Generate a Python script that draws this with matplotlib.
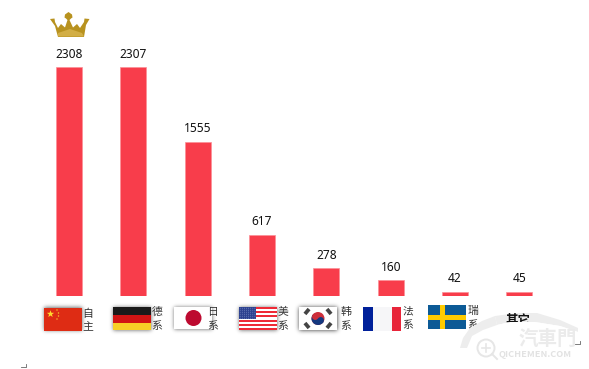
import matplotlib
matplotlib.use('Agg')
import matplotlib.pyplot as plt
from matplotlib.patches import Rectangle, Circle, Polygon, Wedge
import numpy as np
from math import erf

plt.rcParams['font.family'] = ['Noto Sans CJK SC', 'DejaVu Sans']

categories = ['自主', '德系', '日系', '美系', '韩系', '法系', '瑞系', '其它']
values = [2308, 2307, 1555, 617, 278, 160, 42, 45]
BAR = '#f83d4b'
W, H = 589, 369

fig = plt.figure(figsize=(W/100, H/100), dpi=100, facecolor='white')
x0, x1 = 37.0, 551.5
ax = fig.add_axes([x0/W, (H-296)/H, (x1-x0)/W, (296-67)/H])
ax.bar(range(len(values)), values, width=0.405, color=BAR, edgecolor='#fb8f97', linewidth=0.5, zorder=2)
ax.set_xlim(-0.5, 7.5)
ax.set_ylim(0, 2308)
ax.axis('off')
for i, v in enumerate(values):
    ax.annotate(str(v), (i, v), xytext=(0, 6.5), textcoords='offset pixels', ha='center', va='bottom',
                fontsize=8.6, family='Noto Sans', color='#111111', annotation_clip=False)

ov = fig.add_axes([0, 0, 1, 1], facecolor='none')
ov.axis('off')

verf = np.vectorize(erf)
def shadow(x, y, w, h, sigma=2.0, peak=0.6):
    pad = 8
    xs = np.arange(x-pad, x+w+pad, 0.5)
    ys = np.arange(y-pad, y+h+pad, 0.5)
    s = sigma*np.sqrt(2)
    fx = 0.5*(verf((xs-x)/s)-verf((xs-x-w)/s))
    fy = 0.5*(verf((ys-y)/s)-verf((ys-y-h)/s))
    a = np.outer(fy, fx)*peak
    img = np.zeros(a.shape+(4,))
    img[..., 3] = a
    ov.imshow(img, extent=(xs[0], xs[-1], ys[-1], ys[0]), aspect='auto', zorder=3, interpolation='bilinear')

def rect(x, y, w, h, c, z=4):
    ov.add_patch(Rectangle((x, y), w, h, fc=c, ec='none', zorder=z))

# China
shadow(44, 308, 38, 23)
rect(44, 307.5, 38, 23, '#de2c14')
sx, sy = 50.5, 314
ang = np.linspace(-np.pi/2, 2*np.pi-np.pi/2, 11)[:-1]
rad = np.where(np.arange(10) % 2 == 0, 3.8, 1.5)
ov.add_patch(Polygon(np.c_[sx+rad*np.cos(ang), sy+rad*np.sin(ang)], fc='#ffd92e', ec='none', zorder=5))
for dx, dy in [(57, 310), (58.5, 313), (58.5, 316), (57, 319)]:
    ov.add_patch(Circle((dx, dy), 0.7, fc='#f5c92a', ec='none', zorder=5))
# Germany
shadow(113, 307.5, 38, 23)
rect(113, 307, 38, 8, '#1a1a1a'); rect(113, 315, 38, 7.5, '#d11414'); rect(113, 322.5, 38, 7.5, '#f7cf26')
# Japan
shadow(174, 307.5, 38, 22)
rect(174, 307, 38, 22, 'white')
ov.add_patch(Circle((193.5, 318), 8, fc='#bd0a30', ec='none', zorder=5))
# USA
shadow(239, 307.5, 38, 23)
for s in range(11):
    rect(239, 307+s*23/11, 38, 23/11, '#ee2a36' if s % 2 == 0 else 'white')
rect(239, 307, 17, 12.4, '#2c418f', 5)
for r in range(6):
    for c in range(8):
        ov.add_patch(Circle((240.2+c*2.1, 308.2+r*2), 0.4, fc='#98a6d8', ec='none', zorder=6))
# Korea
shadow(299, 307.5, 38, 23, sigma=2.2, peak=0.8)
rect(299, 307, 38, 23, 'white')
cx, cy, R = 318, 318.5, 6.5
tilt = 33.7
ov.add_patch(Circle((cx, cy), R, fc='#cd2e3a', ec='none', zorder=5))
ov.add_patch(Wedge((cx, cy), R, tilt, tilt+180, fc='#14387f', ec='none', zorder=5))
dx, dy = R/2*np.cos(np.radians(tilt)), R/2*np.sin(np.radians(tilt))
ov.add_patch(Circle((cx-dx, cy-dy), R/2, fc='#cd2e3a', ec='none', zorder=6))
ov.add_patch(Circle((cx+dx, cy+dy), R/2, fc='#14387f', ec='none', zorder=6))
for tx, ty, a in [(307, 311.5, -50), (329, 311.5, 50), (307, 325.5, 50), (329, 325.5, -50)]:
    ov.add_patch(Rectangle((tx-3.2, ty-1.9), 6.4, 3.8, angle=a, rotation_point='center', fc='#444444', ec='none', zorder=5))
# France
rect(363, 307, 10, 24, '#00209a'); rect(373, 307, 19, 24, '#f6f6f8'); rect(391.5, 307, 9, 24, '#e8253a')
# Sweden
rect(428, 305, 37.5, 24, '#0c5a96')
rect(440, 305, 4.5, 24, '#fecb00', 5); rect(428, 315, 37.5, 5, '#fecb00', 5)

# watermark outline (decor)
outer = np.array([[460, 348], [463, 338], [470, 328], [482, 321], [495, 316], [517, 313], [537, 313], [560, 320], [578, 328]])
inner = np.array([[578, 332], [560, 326], [535, 322], [510, 322], [497, 325], [483, 330], [472, 336], [467, 348]])
lo = outer[:5]; hi = inner[-4:]
ov.add_patch(Polygon(np.r_[outer[4:], inner[:-3]], fc='#ededed', ec='none', zorder=6.5))
ov.add_patch(Polygon(np.r_[lo, inner[-4:]], fc='#ededed', ec='none', zorder=7.6))
ov.add_patch(Polygon(np.r_[inner[:-3], [[483, 369], [578, 369]]], fc='white', ec='none', zorder=8))

# vertical category labels
lx = [88, 157, 213, 283, 346, 408, 473]
ly = [[314, 326], [312, 325.5], [312, 325.5], [312, 325.5], [312, 325.5], [311, 325], [311, 325]]
for i, (x, ys) in enumerate(zip(lx, ly)):
    for ch, y in zip(categories[i], ys):
        ov.text(x, y, ch, ha='center', va='center', fontsize=7.8, color='#333333', zorder=7)
ov.text(518, 320, '其它', ha='center', va='center', fontsize=9, weight='bold', color='#111111', zorder=7)

ov.add_patch(Circle((486, 348), 8.5, fc='none', ec='#e6e6e6', lw=1.4, zorder=9))
ov.plot([486, 486], [344, 352], color='#e6e6e6', lw=1.2, zorder=9)
ov.plot([482, 490], [348, 348], color='#e6e6e6', lw=1.2, zorder=9)
ov.plot([492, 497], [354, 359], color='#e6e6e6', lw=1.4, zorder=9)
ov.text(548, 339.5, '汽車門', ha='center', va='center', fontsize=14, weight='bold', color='#ebebeb', zorder=9)
ov.text(535.5, 354.5, 'QICHEMEN.COM', ha='center', va='center', fontsize=6.6, weight='bold', color='#e2e2e2', zorder=9)

# crown
crown = [[50, 19], [54.5, 18.5], [55, 22], [58, 28], [61, 24], [65, 27.5], [67.5, 20], [66, 18.5], [64.5, 17.5], [65, 14.5],
         [68.5, 12], [72, 14.5], [72.5, 17.5], [71, 18.5], [69.5, 20], [73, 27.5], [77, 24], [80, 28], [84, 22], [84.5, 18.5],
         [89.5, 19], [86, 25], [84, 37], [58, 37], [55, 26]]
ov.add_patch(Polygon(crown, fc='#b8921f', ec='none', zorder=5))
ov.add_patch(Polygon([[58, 33], [70, 29], [82, 33], [84, 36.5], [58, 36.5]], fc='#d2ae45', ec='none', zorder=6))

# stray paragraph marks
for mx, my in [(23, 367), (577, 344)]:
    ov.plot([mx+3, mx+3, mx-2], [my-3, my, my], color='#666666', lw=0.6, zorder=10)

ov.set_xlim(0, W); ov.set_ylim(H, 0)
fig.savefig('out.png', dpi=100)
